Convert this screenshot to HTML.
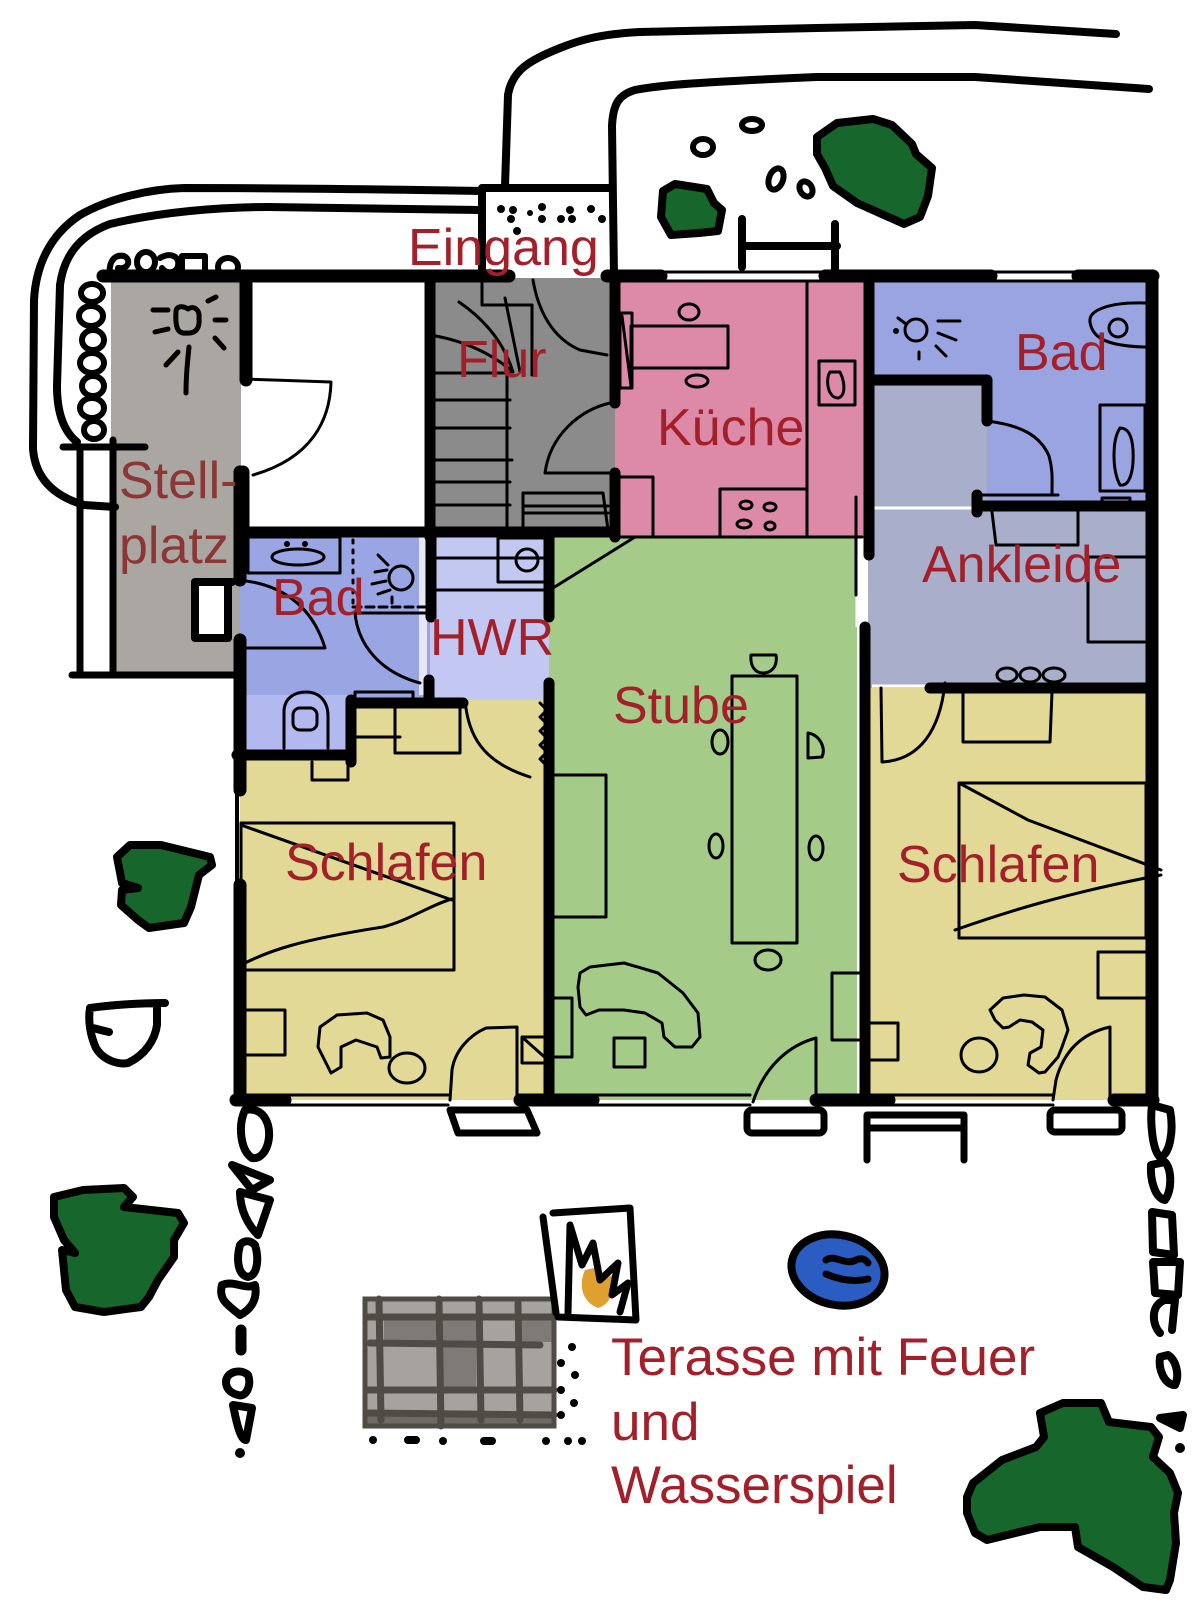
<!DOCTYPE html>
<html><head><meta charset="utf-8"><style>
html,body{margin:0;padding:0;background:#fff;}
svg{display:block;}
text{font-family:"Liberation Sans",Arial,sans-serif;font-size:52px;fill:#a3202a;}
</style></head><body>
<svg xmlns="http://www.w3.org/2000/svg" width="1200" height="1613" viewBox="0 0 1200 1613">
<rect width="1200" height="1613" fill="#fff"/>
<!-- room fills -->
<g stroke="none">
<rect x="111" y="280" width="130" height="398" fill="#aaa7a3"/>
<rect x="433" y="278" width="182" height="254" fill="#8b8b8b"/>
<rect x="615" y="280" width="250" height="257" fill="#dc8aa8"/>
<rect x="868" y="280" width="280" height="106" fill="#9aa4e1"/>
<rect x="987" y="386" width="161" height="120" fill="#9aa4e1"/>
<rect x="868" y="386" width="119" height="120" fill="#a9afcb"/>
<rect x="868" y="506" width="280" height="182" fill="#a9afcb"/>
<rect x="868" y="688" width="280" height="412" fill="#e1d995"/>
<rect x="549" y="537" width="308" height="563" fill="#a5cb88"/>
<rect x="240" y="700" width="309" height="400" fill="#e1d995"/>
<rect x="240" y="533" width="190" height="165" fill="#9aa5e3"/>
<rect x="240" y="695" width="111" height="60" fill="#b2b9ef"/>
<rect x="430" y="533" width="119" height="167" fill="#c2c8f1"/>
<rect x="419" y="537" width="8" height="158" fill="#e6e8fa"/>
</g>
<g stroke="#fff" stroke-width="3">
<line x1="872" y1="508" x2="977" y2="508"/>
<line x1="872" y1="686" x2="930" y2="686"/>
<line x1="857" y1="555" x2="857" y2="627"/>
</g>

<!-- terrace grid -->
<rect x="363" y="1297" width="193" height="131" fill="#a6a39f"/>
<g fill="#7e7a76">
<rect x="384" y="1320" width="52" height="22"/>
<rect x="442" y="1320" width="34" height="22"/>
<rect x="442" y="1346" width="34" height="42"/>
<rect x="521" y="1320" width="32" height="22"/>
</g>
<rect x="363" y="1413" width="193" height="15" fill="#6e6a66"/>
<g stroke="#514b45" stroke-width="7" fill="none" stroke-linecap="round">
<rect x="365" y="1299" width="189" height="127" stroke-width="5"/>
<line x1="379" y1="1299" x2="381" y2="1420"/>
<line x1="439" y1="1299" x2="441" y2="1426"/>
<line x1="479" y1="1299" x2="481" y2="1420"/>
<line x1="518" y1="1303" x2="520" y2="1420"/>
<line x1="366" y1="1317" x2="554" y2="1317"/>
<line x1="370" y1="1343" x2="540" y2="1345"/>
<line x1="366" y1="1390" x2="554" y2="1390"/>
<line x1="366" y1="1413" x2="554" y2="1415"/>
</g>

<!-- thin interior details -->
<g stroke="#000" stroke-width="3" fill="none" stroke-linecap="round" stroke-linejoin="round">
<!-- white room door -->
<path d="M245 379 L331 382 C330 420 312 458 253 475"/>
<!-- Flur stairs -->
<path d="M436 373 H510 M436 400 H510 M436 428 H510 M436 460 H512 M436 482 H510 M436 505 H510 M507 373 V537"/>
<path d="M482 281 V305 H532 V375 M505 298 L520 372 M459 302 Q500 330 513 372 M436 336 Q482 345 513 372"/>
<path d="M533 280 C538 310 552 338 580 350 L607 355"/>
<path d="M610 403 C580 410 550 435 545 473 L613 473"/>
<path d="M523 532 V493 H603 L608 530 M523 506 H608 M523 513 H608"/>
<!-- Küche -->
<rect x="631" y="326" width="97" height="42"/>
<path d="M620 313 H632 V388 H620 Z M622 316 L631 386"/>
<ellipse cx="689" cy="312" rx="10" ry="8"/>
<ellipse cx="697" cy="381" rx="11" ry="6"/>
<path d="M807 281 V537"/>
<rect x="819" y="361" width="36" height="44"/>
<path d="M830 372 C825 380 828 398 838 398 C846 396 845 382 840 372 Z"/>
<rect x="720" y="489" width="87" height="48"/>
<ellipse cx="746" cy="505" rx="6" ry="4"/><ellipse cx="770" cy="507" rx="6" ry="4"/>
<ellipse cx="744" cy="524" rx="7" ry="4"/><ellipse cx="770" cy="526" rx="5" ry="4"/>
<path d="M618 477 H653 V537"/>
<path d="M620 537 H862"/>
<path d="M856 497 V595"/>
<!-- right Bad -->
<circle cx="916" cy="330" r="11"/>
<path d="M898 318 L906 324 M938 321 H960 M938 333 L956 340 M936 346 L946 356 M919 352 V359"/>
<circle cx="896" cy="331" r="1.5" fill="#000"/>
<path d="M1145 303 C1110 302 1088 310 1090 322 C1092 336 1103 346 1145 347"/>
<circle cx="1118" cy="328" r="9"/>
<path d="M987 421 C1020 425 1040 435 1049 456 C1053 470 1052 480 1052 493"/>
<rect x="1100" y="405" width="45" height="86"/>
<path d="M1120 428 C1112 440 1112 470 1120 485 C1130 487 1134 470 1133 450 C1132 435 1128 428 1120 428 Z"/>
<path d="M977 495 H1058 M992 512 L996 545 H1078 V512 M1008 510 V502 H1077 V510 M1102 508 V498 H1130 V508"/>
<path d="M1145 557 H1088 V642 H1145"/>
<ellipse cx="1007" cy="675" rx="10" ry="7"/><ellipse cx="1030" cy="675" rx="10" ry="7"/><ellipse cx="1054" cy="675" rx="11" ry="7"/>
<!-- right Schlafen -->
<path d="M881 688 L882 762 C920 760 940 730 945 683"/>
<path d="M963 692 V742 H1050 L1052 692"/>
<rect x="959" y="783" width="187" height="155"/>
<path d="M959 783 L1028 820 L1161 870 M955 930 C1003 913 1066 893 1161 875"/>
<path d="M1146 952 H1098 V998 H1146"/>
<path d="M990 1010 L1003 998 L1024 995 L1045 997 L1062 1010 L1068 1030 L1062 1047 L1058 1057 L1045 1072 L1039 1073 L1028 1065 L1030 1053 L1041 1047 L1043 1030 L1032 1022 L1020 1020 L1009 1027 L1003 1028 L995 1020 Z"/>
<ellipse cx="979" cy="1055" rx="18" ry="17"/>
<path d="M1110 1100 V1027 C1083 1033 1064 1050 1056 1080 L1053 1100"/>
<path d="M868 1023 H898 V1060 H868"/>
<!-- Stube -->
<rect x="732" y="676" width="65" height="267"/>
<path d="M751 655 H776 C778 668 770 673 763 673 C755 673 750 666 751 655 Z"/>
<ellipse cx="720" cy="742" rx="8" ry="12"/>
<path d="M808 733 C820 735 826 748 822 757 L808 758 Z"/>
<ellipse cx="716" cy="846" rx="7" ry="12"/>
<ellipse cx="816" cy="848" rx="7" ry="12"/>
<ellipse cx="768" cy="960" rx="13" ry="10"/>
<path d="M553 775 H606 V917 H553"/>
<path d="M580 973 L590 967 L624 963 L658 973 L683 993 L698 1013 L700 1037 L692 1047 L675 1047 L664 1037 L662 1023 L645 1013 L624 1010 L599 1010 L586 1015 L580 1007 L578 987 Z"/>
<rect x="614" y="1038" width="31" height="29"/>
<path d="M549 998 H572 V1057 H549"/>
<path d="M860 973 H832 V1040 H860"/>
<path d="M816 1100 V1038 C790 1045 765 1065 753 1102"/>
<path d="M553 588 L635 537"/>
<!-- left Bad -->
<rect x="248" y="537" width="92" height="36"/>
<ellipse cx="298" cy="557" rx="26" ry="8"/>
<circle cx="287" cy="544" r="1.5" fill="#000"/><circle cx="305" cy="544" r="1.5" fill="#000"/>
<path d="M353 540 V607" stroke-dasharray="3 7"/>
<path d="M353 607 H430" stroke-dasharray="8 5"/>
<circle cx="401" cy="578" r="12"/>
<path d="M378 555 L388 565 M375 572 L387 570 M372 584 L386 581 M378 594 L390 590 M392 597 V603"/>
<path d="M237 580 C280 583 312 605 325 648 L243 648"/>
<path d="M355 613 H430 M355 613 C358 645 380 672 420 683"/>
<path d="M284 748 V712 C284 697 296 692 306 692 C320 692 328 702 328 716 V748"/>
<rect x="293" y="708" width="24" height="22" rx="7"/>
<path d="M312 762 V780 H348 V762"/>
<!-- HWR -->
<rect x="498" y="538" width="47" height="44"/>
<circle cx="527" cy="560" r="11"/>
<path d="M435 558 H545 M435 590 H545"/>
<!-- left Schlafen -->
<rect x="355" y="692" width="58" height="8"/>
<rect x="395" y="707" width="65" height="46"/>
<path d="M355 737 H400"/>
<path d="M465 700 C468 735 482 762 530 777"/>
<path d="M540 703 l7 7 l-7 7 l7 7 l-7 7 l7 7 l-7 7 l7 7 l-7 7 l7 7"/>
<rect x="241" y="823" width="213" height="147"/>
<path d="M241 825 L452 900 M241 965 C270 950 300 940 383 927 C410 920 430 905 452 899"/>
<path d="M245 1010 H285 V1055 H245"/>
<path d="M331 1073 L318 1047 L320 1027 L337 1015 L367 1013 L383 1020 L390 1037 L390 1057 L381 1058 L377 1047 L356 1040 L341 1047 L341 1067 Z"/>
<ellipse cx="407" cy="1068" rx="18" ry="15"/>
<path d="M517 1100 V1027 L486 1028 C470 1035 455 1050 452 1070 L450 1100"/>
<path d="M522 1037 H551 V1063 H522 Z M522 1037 L549 1061"/>
<!-- windows -->
<path d="M661 272 H825 M661 281 H825 M991 272 H1078 M991 281 H1078"/>
<path d="M285 1095 H448 M285 1105 H448 M593 1095 H750 M593 1105 H750 M889 1095 H1053 M889 1105 H1053"/>
<path d="M237 790 V885" stroke-width="4"/>
</g>

<!-- walls -->
<g stroke="#000" fill="none" stroke-linecap="round" stroke-linejoin="round">
<g stroke-width="13">
<path d="M103 276 H509 M607 276 H661 M825 276 H991 M1078 276 H1153"/>
<path d="M1152 276 V1100"/>
<path d="M236 1100 H285 M520 1100 H593 M816 1100 H889 M1114 1100 H1153"/>
<path d="M240 472 V580 M240 640 V790 M240 885 V1100"/>
<path d="M246 281 V380 M243 472 V540"/>
</g>
<g stroke-width="11">
<path d="M430 277 V537"/>
<path d="M240 532 H615"/>
<path d="M615 280 V403 M615 473 V537"/>
<path d="M869 277 V555 M865 627 V1100"/>
<path d="M869 380 H987 M987 380 V421"/>
<path d="M977 506 H1148 M977 495 V512"/>
<path d="M930 688 H1148"/>
<path d="M549 537 V617 M549 683 V1100"/>
<path d="M431 537 V617 M429 680 V700"/>
<path d="M237 755 H351 M351 700 V762 M351 703 H463"/>
</g>
</g>

<!-- outdoor strokes -->
<g stroke="#000" stroke-width="8" fill="none" stroke-linecap="round" stroke-linejoin="round">
<path d="M505 186 L508 95 C512 70 530 60 560 48 C580 40 600 34 640 32 L817 28 L975 25 L1116 34"/>
<path d="M614 277 L612 126 C613 105 618 95 635 90 C660 85 700 82 817 77 L975 77 L1149 89"/>
<path d="M482 277 V188 H612"/>
<path d="M482 191 C420 190 300 188 184 188 C150 189 110 198 80 215 C50 235 36 265 34 300 L33 449 C35 475 50 495 84 505 L115 507"/>
<path d="M480 210 L268 207 C220 207 160 212 110 224 C80 235 64 255 60 285 L57 386 C57 410 62 430 77 442"/>
<path d="M80 447 V675 M113 440 V675 M72 675 H237 M63 447 H145" stroke-width="7"/>
<path d="M232 582 H195 V638 H228 V582" fill="#fff"/>
<path d="M742 219 V267 M742 246 H837 M835 224 V277"/>
<!-- fence loops top -->
<g stroke-width="6">
<path d="M110 277 C108 262 114 254 124 256 C132 260 128 270 118 268"/>
<ellipse cx="146" cy="262" rx="9" ry="10"/>
<path d="M160 258 C170 252 180 256 178 266 C176 274 166 274 162 268"/>
<path d="M182 276 V256 H205 V274"/>
<ellipse cx="228" cy="267" rx="10" ry="9"/>
<ellipse cx="92" cy="293" rx="11" ry="9"/>
<ellipse cx="91" cy="316" rx="12" ry="10"/>
<ellipse cx="93" cy="340" rx="11" ry="10"/>
<ellipse cx="92" cy="363" rx="12" ry="10"/>
<ellipse cx="93" cy="386" rx="11" ry="10"/>
<ellipse cx="92" cy="408" rx="12" ry="10"/>
<ellipse cx="94" cy="430" rx="10" ry="9"/>
</g>
<!-- suns -->
<g stroke-width="5">
<path d="M176 312 C176 305 184 306 188 309 C194 305 200 310 199 318 C200 328 196 334 186 333 C178 334 175 328 176 312 Z"/>
<path d="M153 310 H168 M155 332 L168 329 M208 301 L216 297 M215 320 H226 M215 338 L224 348 M189 347 C187 365 186 380 186 393 M166 365 L178 352"/>
</g>
<!-- pebbles -->
<g stroke-width="6" fill="#fff">
<ellipse cx="752" cy="125" rx="10" ry="6"/>
<ellipse cx="703" cy="147" rx="10" ry="8"/>
<ellipse cx="776" cy="179" rx="7" ry="11" transform="rotate(20 776 179)"/>
<ellipse cx="806" cy="189" rx="6" ry="8" transform="rotate(-30 806 189)"/>
</g>
<!-- benches -->
<g stroke-width="7">
<path d="M450 1110 H527 L537 1133 H458 Z"/>
<rect x="747" y="1110" width="77" height="23" rx="5"/>
<path d="M867 1160 V1115 H964 V1160 M867 1128 H964"/>
<rect x="1050" y="1110" width="72" height="22" rx="5"/>
</g>
<!-- bush outline -->
<path d="M165 1003 C140 1003 110 1005 90 1008 C88 1020 90 1035 96 1048 C103 1060 118 1065 128 1063 C145 1055 155 1040 157 1025 L157 1008 M109 1032 C100 1030 94 1028 92 1028"/>
<!-- left chain -->
<path d="M245 1110 C238 1125 240 1150 252 1158 C265 1160 272 1140 268 1125 C264 1112 255 1108 245 1110 Z"/>
<path d="M232 1165 L270 1180 L252 1190 Z"/>
<path d="M240 1192 L270 1200 L258 1235 C248 1225 240 1210 240 1192 Z"/>
<path d="M240 1245 C236 1260 238 1275 248 1277 C258 1275 259 1258 255 1245 C250 1240 244 1240 240 1245 Z"/>
<path d="M222 1285 C218 1300 228 1305 240 1315 C250 1310 258 1300 255 1285 C245 1290 235 1280 222 1285 Z"/>
<path d="M241 1330 V1350" stroke-width="11"/>
<path d="M226 1382 C226 1372 240 1368 248 1375 C252 1385 246 1398 238 1395 C230 1393 226 1388 226 1382 Z"/>
<path d="M233 1405 L252 1408 L246 1440 C240 1440 236 1420 233 1405 Z"/>
<!-- right chain -->
<path d="M1152 1105 C1150 1120 1152 1150 1160 1157 C1170 1155 1174 1130 1170 1110 Z"/>
<path d="M1151 1165 C1150 1180 1155 1198 1165 1200 C1172 1190 1172 1170 1165 1162 Z"/>
<path d="M1152 1212 L1172 1215 L1174 1255 L1153 1252 Z"/>
<path d="M1153 1262 L1180 1262 L1178 1295 L1155 1293 Z"/>
<path d="M1165 1300 C1150 1305 1152 1325 1160 1333 M1165 1300 L1175 1300 L1172 1330"/>
<path d="M1160 1357 C1158 1370 1165 1385 1175 1385 C1180 1375 1176 1360 1168 1355 Z"/>
<path d="M1160 1418 L1183 1415 L1180 1428 Z"/>
<!-- fire box -->
<path d="M553 1213 L630 1208 L636 1320 L558 1317 M543 1217 L556 1313" stroke-width="7"/>
</g>
<g fill="#000">
<circle cx="240" cy="1453" r="5"/>
<circle cx="1180" cy="1448" r="5"/>
<circle cx="1177" cy="1420" r="4"/>
<!-- gravel -->
<circle cx="501" cy="209" r="4"/><circle cx="513" cy="210" r="4"/><circle cx="511" cy="219" r="4"/>
<circle cx="542" cy="207" r="4"/><circle cx="542" cy="219" r="4"/><circle cx="561" cy="219" r="4"/>
<circle cx="570" cy="210" r="4"/><circle cx="572" cy="219" r="4"/><circle cx="591" cy="209" r="4"/>
<circle cx="517" cy="231" r="4"/><circle cx="602" cy="219" r="4"/><circle cx="530" cy="213" r="3"/>
<!-- terrace dots -->
<circle cx="572" cy="1347" r="4"/><circle cx="561" cy="1363" r="4"/><circle cx="575" cy="1375" r="4"/>
<circle cx="561" cy="1390" r="4"/><circle cx="574" cy="1403" r="4"/><circle cx="561" cy="1415" r="4"/>
<circle cx="373" cy="1440" r="4"/><rect x="404" y="1436" width="16" height="8" rx="4"/>
<circle cx="443" cy="1441" r="4"/><rect x="480" y="1437" width="16" height="8" rx="4"/>
<circle cx="546" cy="1441" r="4"/><circle cx="568" cy="1441" r="4"/><circle cx="582" cy="1441" r="4"/>
</g>

<!-- flame -->
<path d="M585 1270 C578 1285 582 1302 598 1308 C610 1305 616 1290 612 1275 L600 1282 L594 1268 Z" fill="#e0a030"/>
<path d="M568 1313 L570 1225 L582 1265 L593 1243 L600 1280 L618 1263 L612 1295 L628 1283 L620 1312" fill="none" stroke="#000" stroke-width="7" stroke-linejoin="round" stroke-linecap="round"/>

<!-- trees -->
<g fill="#17662b" stroke="#000" stroke-width="8" stroke-linejoin="round">
<polygon points="817,137 837,123 873,119 892,125 912,144 916,154 932,168 928,196 920,217 904,224 857,203 833,186 825,168 817,154"/>
<polygon points="663,191 675,184 707,189 714,203 722,210 718,231 699,233 671,235 661,217"/>
<polygon points="117,857 130,845 161,845 210,857 212,865 199,875 191,907 184,923 149,928 138,920 121,905 122,890 138,888 122,883"/>
<polygon points="54,1197 83,1190 124,1188 133,1197 124,1207 178,1213 184,1223 174,1240 174,1257 158,1280 149,1297 141,1307 104,1312 75,1307 66,1290 62,1250 75,1253 64,1240 54,1217"/>
<polygon points="967,1497 973,1483 1002,1460 1036,1447 1044,1437 1040,1413 1063,1403 1101,1403 1109,1422 1151,1427 1159,1437 1153,1457 1170,1473 1178,1493 1174,1513 1176,1543 1170,1580 1166,1590 1143,1587 1113,1567 1078,1547 1075,1527 1040,1527 987,1540 975,1533 967,1513"/>
</g>
<!-- pond -->
<ellipse cx="838" cy="1270" rx="47" ry="35" transform="rotate(12 838 1270)" fill="#2b5cc2" stroke="#000" stroke-width="8"/>
<path d="M826 1260 C835 1254 845 1266 856 1260 C862 1257 866 1260 868 1263 M826 1274 C840 1280 855 1282 868 1279" fill="none" stroke="#000" stroke-width="7" stroke-linecap="round"/>

<!-- labels -->
<text x="408" y="265">Eingang</text>
<text x="457" y="377">Flur</text>
<text x="657" y="445">Küche</text>
<text x="1015" y="370">Bad</text>
<text x="119" y="498" style="fill:#8c3636">Stell-</text>
<text x="119" y="563" style="fill:#8c3636">platz</text>
<text x="272" y="615">Bad</text>
<text x="430" y="655">HWR</text>
<text x="922" y="582">Ankleide</text>
<text x="613" y="723">Stube</text>
<text x="285" y="880">Schlafen</text>
<text x="897" y="882">Schlafen</text>
<text x="611" y="1375" style="font-size:53px">Terasse mit Feuer</text>
<text x="611" y="1440" style="font-size:53px">und</text>
<text x="611" y="1503" style="font-size:53px">Wasserspiel</text>
</svg>
</body></html>
